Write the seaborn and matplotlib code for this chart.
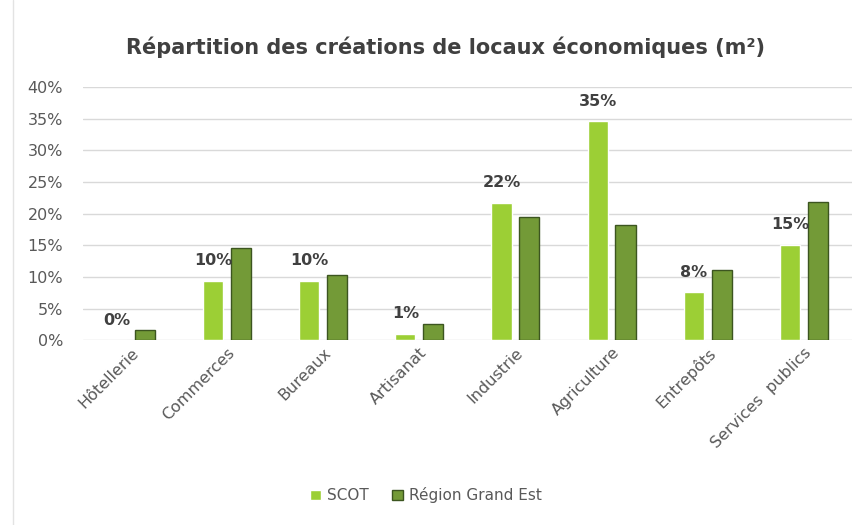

# %% ---- Requirements and constants
import numpy as np
import pandas as pd
import matplotlib
matplotlib.use('Agg')
import matplotlib.pyplot as plt
from matplotlib.lines import Line2D
from matplotlib.ticker import PercentFormatter
import seaborn as sns

categories = ['Hôtellerie', 'Commerces', 'Bureaux', 'Artisanat',
              'Industrie', 'Agriculture', 'Entrepôts', 'Services  publics']
scot = [0.0, 9.4, 9.4, 1.05, 21.7, 34.6, 7.6, 15.1]
region = [1.6, 14.6, 10.3, 2.5, 19.4, 18.2, 11.1, 21.8]
scot_labels = ['0%', '10%', '10%', '1%', '22%', '35%', '8%', '15%']
series = ['SCOT', 'Région Grand Est']
yticks = [0, 5, 10, 15, 20, 25, 30, 35, 40]

# %% ---- Function and class
df = pd.DataFrame({
    'cat': categories * 2,
    'val': scot + region,
    'serie': [series[0]] * len(categories) + [series[1]] * len(categories),
})

sns.set_theme(style='white')
plt.rcParams['font.family'] = ['DejaVu Sans']

# %% ---- Play ground
fig = plt.figure(figsize=(8.52, 5.25), dpi=100)
ax = fig.add_axes([0.097, 0.352, 0.903, 0.482])

colors = {'SCOT': '#9ccf35', 'Région Grand Est': '#739a37'}
sns.barplot(data=df, x='cat', y='val', hue='serie', palette=colors,
            saturation=1, width=0.58, gap=0.28, ax=ax, legend=True)

# dark outline on the region bars only
for p in ax.containers[1]:
    p.set_edgecolor('#3c5520')
    p.set_linewidth(1.0)

ax.bar_label(ax.containers[0], labels=scot_labels, padding=9,
             fontsize=11.5, fontweight='bold', color='#404040')

ax.set_ylim(0, 40)
ax.set_xlim(-0.5, 7.5)
ax.set_yticks(yticks)
ax.yaxis.set_major_formatter(PercentFormatter(decimals=0))
ax.grid(axis='y', color='#d9d9d9', linewidth=1)
ax.set_axisbelow(True)
sns.despine(ax=ax, left=True, bottom=True)
ax.tick_params(axis='both', length=0, labelsize=11.5, colors='#595959')
ax.tick_params(axis='y', pad=14)
ax.set_xticks(range(len(categories)))
ax.set_xticklabels(categories, rotation=45, ha='right', rotation_mode='anchor')
ax.set_xlabel('')
ax.set_ylabel('')

ax.get_legend().remove()
handles = [plt.Rectangle((0, 0), 1, 1, facecolor=colors['SCOT']),
           plt.Rectangle((0, 0), 1, 1, facecolor=colors['Région Grand Est'],
                         edgecolor='#3c5520', linewidth=1)]
fig.legend(handles, series, loc='lower center', bbox_to_anchor=(0.5, 0.015),
           ncol=2, frameon=False, handlelength=0.7, handleheight=0.7,
           handletextpad=0.4, columnspacing=1.5, fontsize=11,
           labelcolor='#595959')

fig.text(0.523, 0.91, 'Répartition des créations de locaux économiques (m²)',
         ha='center', va='center', fontsize=15, fontweight='bold',
         color='#404040')

# light frame border on the left
fig.add_artist(Line2D([0.015, 0.015], [0.0, 1.0], color='#e3e3e3', linewidth=1))

fig.savefig('out.png', dpi=100)
